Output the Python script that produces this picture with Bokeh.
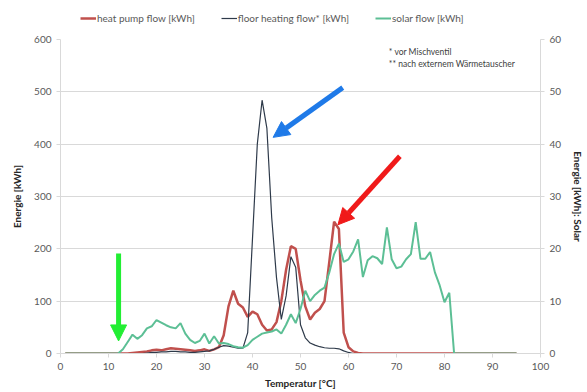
from bokeh.plotting import figure
from bokeh.layouts import column
from bokeh.models import (Range1d, LinearAxis, Legend, LegendItem, Arrow, NormalHead,
                          Label, FixedTicker)
from bokeh.embed import file_html
from bokeh.resources import INLINE

# ---------------- data ----------------
temperature = list(range(1, 96))

heat_pump_flow = [
    0, 0, 0, 0, 0, 0, 0, 0, 0, 0, 0, 0, 0, 0,
    1, 2, 3, 4, 6, 7, 6, 8, 10, 9, 8, 7, 6, 5, 6, 8, 5, 8, 12, 35,
    90, 120, 95, 88, 70, 80, 75, 55, 44, 46, 60, 100, 160, 205, 200, 140,
    90, 65, 78, 85, 100, 175, 252, 238, 40, 12, 4, 1,
    0, 0, 0, 0, 0, 0, 0, 0, 0, 0, 0, 0, 0, 0, 0, 0, 0, 0, 0, 0, 0, 0,
    0, 0, 0, 0, 0, 0, 0, 0, 0, 0, 0,
]

floor_heating_flow = [
    0, 0, 0, 0, 0, 0, 0, 0, 0, 0, 0, 0, 0, 0, 0, 0, 0,
    1, 2, 2, 3, 3, 4, 4, 3, 3, 2, 2, 3, 4, 5, 8, 12, 15, 14, 12, 10, 10,
    40, 220, 400, 484, 430, 260, 145, 65, 110, 185, 165, 55,
    30, 20, 16, 13, 11, 10, 10, 9, 5, 2,
    0, 0, 0, 0, 0, 0, 0, 0, 0, 0, 0, 0, 0, 0, 0, 0, 0, 0, 0, 0, 0, 0,
    0, 0, 0, 0, 0, 0, 0, 0, 0, 0, 0, 0, 0,
]

solar_flow = [
    0, 0, 0, 0, 0, 0, 0, 0, 0, 0, 0, 0,
    0.8, 2.2, 3.6, 2.8, 3.5, 4.8, 5.2, 6.4, 5.9, 5.4, 5.0, 4.8, 5.8, 3.8,
    2.6, 2.0, 2.4, 3.8, 1.9, 3.3, 1.9, 2.0, 1.8, 1.4, 1.2, 1.1, 1.6, 2.6,
    3.2, 3.8, 4.0, 4.2, 4.6, 3.8, 5.5, 7.5, 5.8, 8.5, 12.0, 10.0, 11.2, 12.0,
    12.6, 15.5, 19.0, 21.0, 17.5, 18.0, 19.5, 21.8, 14.6, 17.8, 18.6, 18.2,
    17.1, 24.1, 18.0, 16.3, 16.6, 18.0, 19.0, 25.1, 18.1, 18.1, 19.4, 15.5,
    13.0, 9.8, 11.6,
    0, 0, 0, 0, 0, 0, 0, 0, 0, 0, 0, 0, 0, 0,
]

x_ticks = [0, 10, 20, 30, 40, 50, 60, 70, 80, 90, 100]
left_ticks = [0, 100, 200, 300, 400, 500, 600]
right_ticks = [0, 10, 20, 30, 40, 50, 60]

series_names = ["heat pump flow [kWh]", "floor heating flow* [kWh]", "solar flow [kWh]"]
series_colors = ["#c0504d", "#2e3a4a", "#5cbf95"]
series_widths = [2.5, 1.2, 2.0]

notes = ["* vor Mischventil", "** nach externem Wärmetauscher"]
note_x = [68.4, 68.4]
note_y = [566, 543]

# arrows: (x_start, y_start, x_end, y_end) in data units of left axis
arrow_blue = [58.8, 508, 44.3, 413]
arrow_red = [70.7, 377, 57.8, 246]
arrow_green = [12.1, 191, 12.1, 24]

FONT = "Lato"
TXT = "#595959"
GRID = "#d9d9d9"

# ---------------- legend strip ----------------
lf = figure(width=587, height=31, x_range=Range1d(0, 1), y_range=Range1d(0, 1),
            output_backend="svg", toolbar_location=None,
            x_axis_location=None, y_axis_location=None,
            min_border_left=0, min_border_right=0, min_border_top=0, min_border_bottom=0)
lf.outline_line_color = None
lf.grid.grid_line_color = None
items = []
for name, col, w in zip(series_names, series_colors, series_widths):
    # proxy renderer placed outside the strip's visible range: only its legend swatch shows
    r = lf.line([5, 6], [5, 6], line_color=col, line_width=w)
    items.append(LegendItem(label=name, renderers=[r]))
legend = Legend(items=items, orientation="horizontal", location=(20, 7),
                label_text_font=FONT, label_text_font_size="10px", label_text_color=TXT,
                glyph_width=16, glyph_height=10, label_standoff=1, spacing=26,
                padding=0, margin=0, border_line_color=None, background_fill_alpha=0,
                label_height=12)
lf.add_layout(legend)

# ---------------- main chart ----------------
p = figure(width=587, height=361, x_range=Range1d(0, 100), y_range=Range1d(0, 600),
           output_backend="svg", toolbar_location=None,
           min_border_left=60, min_border_right=40, min_border_top=8, min_border_bottom=39)
p.extra_y_ranges = {"solar": Range1d(0, 60)}
p.outline_line_color = None
p.background_fill_color = "white"
p.border_fill_color = "white"

p.line(temperature, heat_pump_flow, line_color=series_colors[0], line_width=series_widths[0])
p.line(temperature, floor_heating_flow, line_color=series_colors[1], line_width=series_widths[1])
p.line(temperature, solar_flow, line_color=series_colors[2], line_width=series_widths[2],
       y_range_name="solar")

right = LinearAxis(y_range_name="solar", axis_label="Energie [kWh]: Solar")
p.add_layout(right, "right")

for ax in [p.xaxis[0], p.yaxis[0], right]:
    ax.axis_line_color = GRID
    ax.major_tick_line_color = GRID
    ax.major_tick_out = 4
    ax.major_tick_in = 0
    ax.minor_tick_line_color = None
    ax.major_label_text_font = FONT
    ax.major_label_text_font_size = "10px"
    ax.major_label_text_color = TXT
    ax.axis_label_text_font = FONT
    ax.axis_label_text_font_size = "10px"
    ax.axis_label_text_font_style = "bold"
    ax.axis_label_text_color = "#262626"

p.xaxis[0].ticker = FixedTicker(ticks=x_ticks)
p.yaxis[0].ticker = FixedTicker(ticks=left_ticks)
right.ticker = FixedTicker(ticks=right_ticks)
p.xaxis[0].axis_label = "Temperatur [°C]"
p.yaxis[0].axis_label = "Energie [kWh]"
p.xaxis[0].axis_label_standoff = 4
p.yaxis[0].axis_label_standoff = 8
right.axis_label_standoff = 8

p.xgrid.grid_line_color = None
p.ygrid.grid_line_color = GRID
p.ygrid.ticker = FixedTicker(ticks=left_ticks)

for t, xx, yy in zip(notes, note_x, note_y):
    p.add_layout(Label(x=xx, y=yy, text=t, text_font=FONT, text_font_size="8.5px",
                       text_color="#404040"))

for a, col in [(arrow_blue, "#1f7ae8"), (arrow_red, "#f01a1a"), (arrow_green, "#22ee33")]:
    p.add_layout(Arrow(end=NormalHead(size=16, fill_color=col, line_color=col),
                       x_start=a[0], y_start=a[1], x_end=a[2], y_end=a[3],
                       line_color=col, line_width=5))

layout = column(lf, p, spacing=0)
open("out.html", "w").write(file_html(layout, INLINE))
